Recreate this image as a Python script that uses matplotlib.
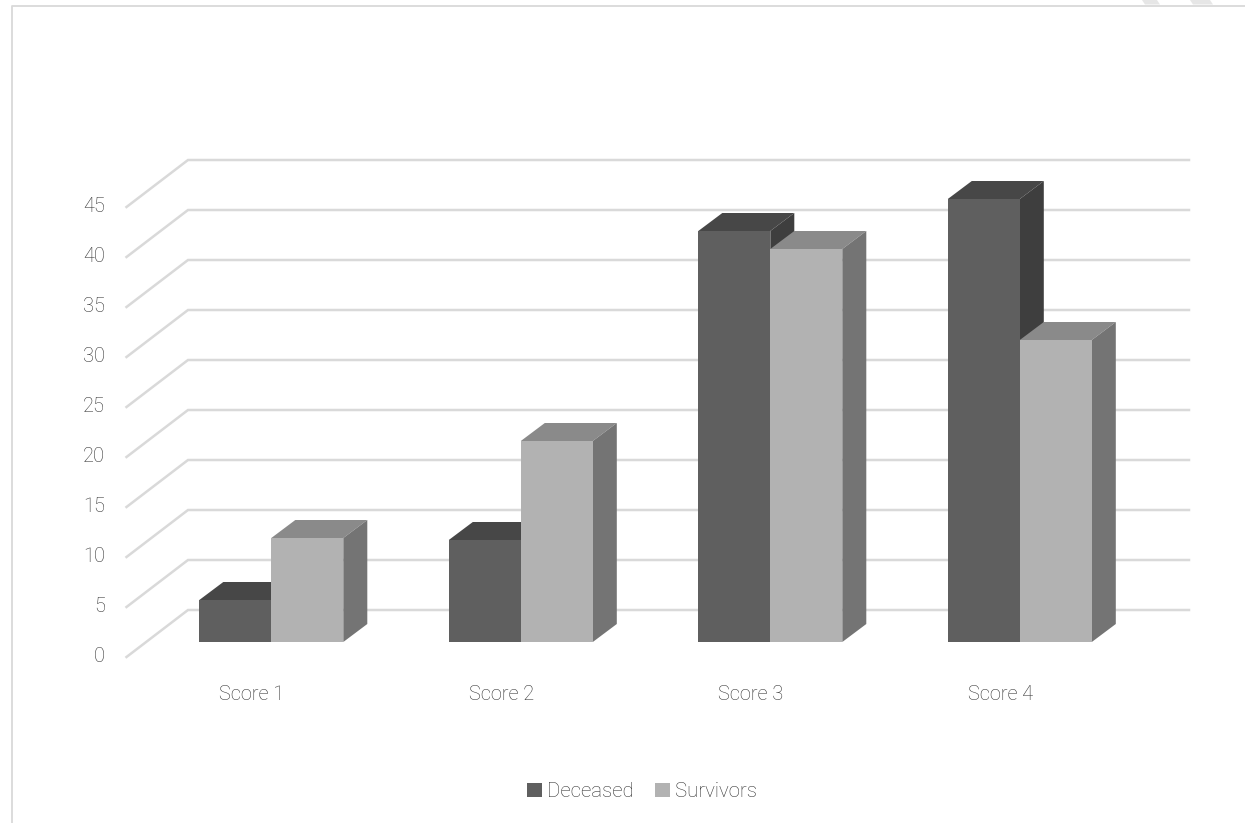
import matplotlib
matplotlib.use("Agg")
import matplotlib.pyplot as plt
from matplotlib.patches import Polygon, Patch
from matplotlib.lines import Line2D
from matplotlib.transforms import Affine2D

categories = ["Score 1", "Score 2", "Score 3", "Score 4"]
deceased = [4.2, 10.2, 41.1, 44.3]
survivors = [10.4, 20.1, 39.3, 30.2]
y_ticks = [0, 5, 10, 15, 20, 25, 30, 35, 40, 45]
series_names = ["Deceased", "Survivors"]

W, H = 1245, 823
plt.rcParams['font.family'] = ['Roboto', 'DejaVu Sans']
plt.rcParams['font.weight'] = 'light'
fig = plt.figure(figsize=(W / 100, H / 100), dpi=100, facecolor='white')

# axes rectangle in pixels (front plane of the 3-D box)
L, R, T, B = 126.5, 1189, 157, 657
ax = fig.add_axes([L / W, 1 - B / H, (R - L) / W, (B - T) / H])
X0, PITCH = 271.3, 249.5
ax.set_xlim((L - X0) / PITCH, (R - X0) / PITCH)
ax.set_ylim(-1.5, 48.5)
ax.patch.set_alpha(0)
for s in ax.spines.values():
    s.set_visible(False)

GRID = '#d9d9d9'
TXT = '#333333'
DX = 24 / PITCH   # depth in data units
DY = 1.8
BACK_X = (188 - X0) / PITCH
BACK_Y = 3.2
FRONT_X = (L - X0) / PITCH
FRONT_Y = -1.5
BW = 72 / PITCH

for v in y_ticks:
    ax.plot([FRONT_X, BACK_X, (R - X0) / PITCH],
            [v + FRONT_Y, v + BACK_Y, v + BACK_Y],
            color=GRID, lw=1.8, solid_joinstyle='miter', zorder=1, clip_on=False)

styles = [('#5f5f5f', '#474747', '#3e3e3e'), ('#b2b2b2', '#8a8a8a', '#747474')]
for k, (vals, (front, top, side)) in enumerate(zip([deceased, survivors], styles)):
    z = 3 + k
    for i, v in enumerate(vals):
        x0 = i - BW + k * BW
        x1 = x0 + BW
        ax.bar(x0, v, width=BW, align='edge', color=front, linewidth=0, zorder=z + 0.2)
        ax.add_patch(Polygon([(x0, v), (x1, v), (x1 + DX, v + DY), (x0 + DX, v + DY)],
                             closed=True, facecolor=top, edgecolor='none', zorder=z))
        ax.add_patch(Polygon([(x1, 0), (x1 + DX, DY), (x1 + DX, v + DY), (x1, v)],
                             closed=True, facecolor=side, edgecolor='none', zorder=z))

ax.set_xticks(range(len(categories)))
ax.set_xticklabels(categories)
ax.set_yticks(y_ticks)
ax.set_yticklabels([str(v) for v in y_ticks])
ax.tick_params(axis='both', length=0, labelsize=14.4, labelcolor=TXT)
ax.tick_params(axis='x', pad=20.5)
ax.tick_params(axis='y', pad=15.5)
for lbl in ax.get_yticklabels():
    lbl.set_transform(lbl.get_transform() + Affine2D().translate(0, -13))
for lbl in ax.get_xticklabels():
    lbl.set_transform(lbl.get_transform() + Affine2D().translate(-19.5, 0))

handles = [Patch(facecolor='#5f5f5f', label=series_names[0]),
           Patch(facecolor='#b2b2b2', label=series_names[1])]
fig.legend(handles=handles, loc='center', bbox_to_anchor=(642 / W, 1 - 791.5 / H),
           ncols=2, frameon=False, fontsize=14.7, labelcolor=TXT,
           handlelength=0.72, handleheight=0.72, handletextpad=0.25, columnspacing=1.05)

# chart frame (top and left only are in view)
fig.add_artist(Line2D([12 / W, 12 / W, 1], [0, 1 - 5.5 / H, 1 - 5.5 / H], color=GRID, lw=1.3))

# cut-off marks at the top right of the page
for a, b in [(1142, 1160), (1190, 1213)]:
    fig.add_artist(Polygon([(a / W, 1), ((a + 3) / W, 1 - 4.5 / H), (b / W, 1 - 4.5 / H), ((b - 3) / W, 1)],
                           closed=True, facecolor='#e6e6e6', edgecolor='none',
                           transform=fig.transFigure))

fig.savefig('out.png', dpi=100, facecolor='white')
